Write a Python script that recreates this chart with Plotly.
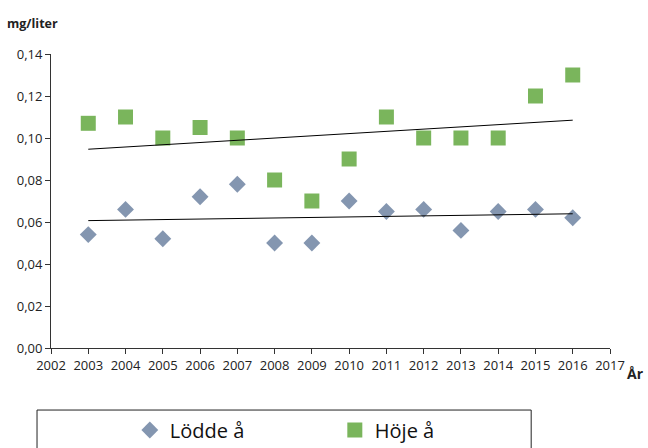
import numpy as np
import plotly.graph_objects as go

years = list(range(2003, 2017))
lodde = [0.054, 0.066, 0.052, 0.072, 0.078, 0.050, 0.050, 0.070, 0.065, 0.066, 0.056, 0.065, 0.066, 0.062]
hoje = [0.107, 0.110, 0.100, 0.105, 0.100, 0.080, 0.070, 0.090, 0.110, 0.100, 0.100, 0.100, 0.120, 0.130]
x_ticks = list(range(2002, 2018))
y_ticks = [0.0, 0.02, 0.04, 0.06, 0.08, 0.10, 0.12, 0.14]

FONT = "Open Sans"
fig = go.Figure()

fig.add_trace(go.Scatter(x=years, y=lodde, mode="markers", name="Lödde å",
                         marker=dict(symbol="diamond", size=13, color="#8496B0")))
fig.add_trace(go.Scatter(x=years, y=hoje, mode="markers", name="Höje å",
                         marker=dict(symbol="square", size=15, color="#7AB55C")))

for ser in (lodde, hoje):
    k, m = np.polyfit(years, ser, 1)
    xs = [years[0], years[-1]]
    fig.add_trace(go.Scatter(x=xs, y=[k * v + m for v in xs], mode="lines",
                             line=dict(color="black", width=1), showlegend=False,
                             hoverinfo="skip"))

fig.update_layout(
    width=648, height=448,
    margin=dict(l=51, r=38, t=54, b=100, autoexpand=False),
    paper_bgcolor="white", plot_bgcolor="white",
    separators=", ",
    font=dict(family=FONT, size=13, color="#222"),
    showlegend=True,
    legend=dict(orientation="h", x=0.141, y=-0.279, xanchor="left", yanchor="middle",
                font=dict(size=20, family=FONT, color="#111"),
                entrywidth=160, entrywidthmode="pixels", bgcolor="rgba(0,0,0,0)"),
    xaxis=dict(range=[2002, 2017], tickvals=x_ticks, showgrid=False, zeroline=False,
               showline=True, linecolor="#333", linewidth=1, ticks="outside",
               ticklen=5, tickcolor="#333", tickfont=dict(size=13), automargin=False),
    yaxis=dict(range=[0, 0.14], tickvals=y_ticks, tickformat=".2f", showgrid=False,
               zeroline=False, showline=True, linecolor="#333", linewidth=1,
               ticks="outside", ticklen=5, tickcolor="#333", tickfont=dict(size=13),
               automargin=False),
    annotations=[
        dict(text="<b>mg/liter</b>", xref="paper", yref="paper", x=-0.082, y=1.105,
             xanchor="left", yanchor="middle", showarrow=False, font=dict(size=12.5)),
        dict(text="<b>År</b>", xref="paper", yref="paper", x=1.027, y=-0.088,
             xanchor="left", yanchor="middle", showarrow=False, font=dict(size=14)),
    ],
    shapes=[dict(type="rect", xref="paper", yref="paper", x0=-0.025, x1=0.859,
                 y0=-0.211, y1=-0.45, line=dict(color="#222", width=1))],
)

fig.write_html("out.html", config={"displayModeBar": False},
               post_script="document.body.style.margin='0';document.body.style.padding='0';"
                           "document.body.style.overflow='hidden';")
